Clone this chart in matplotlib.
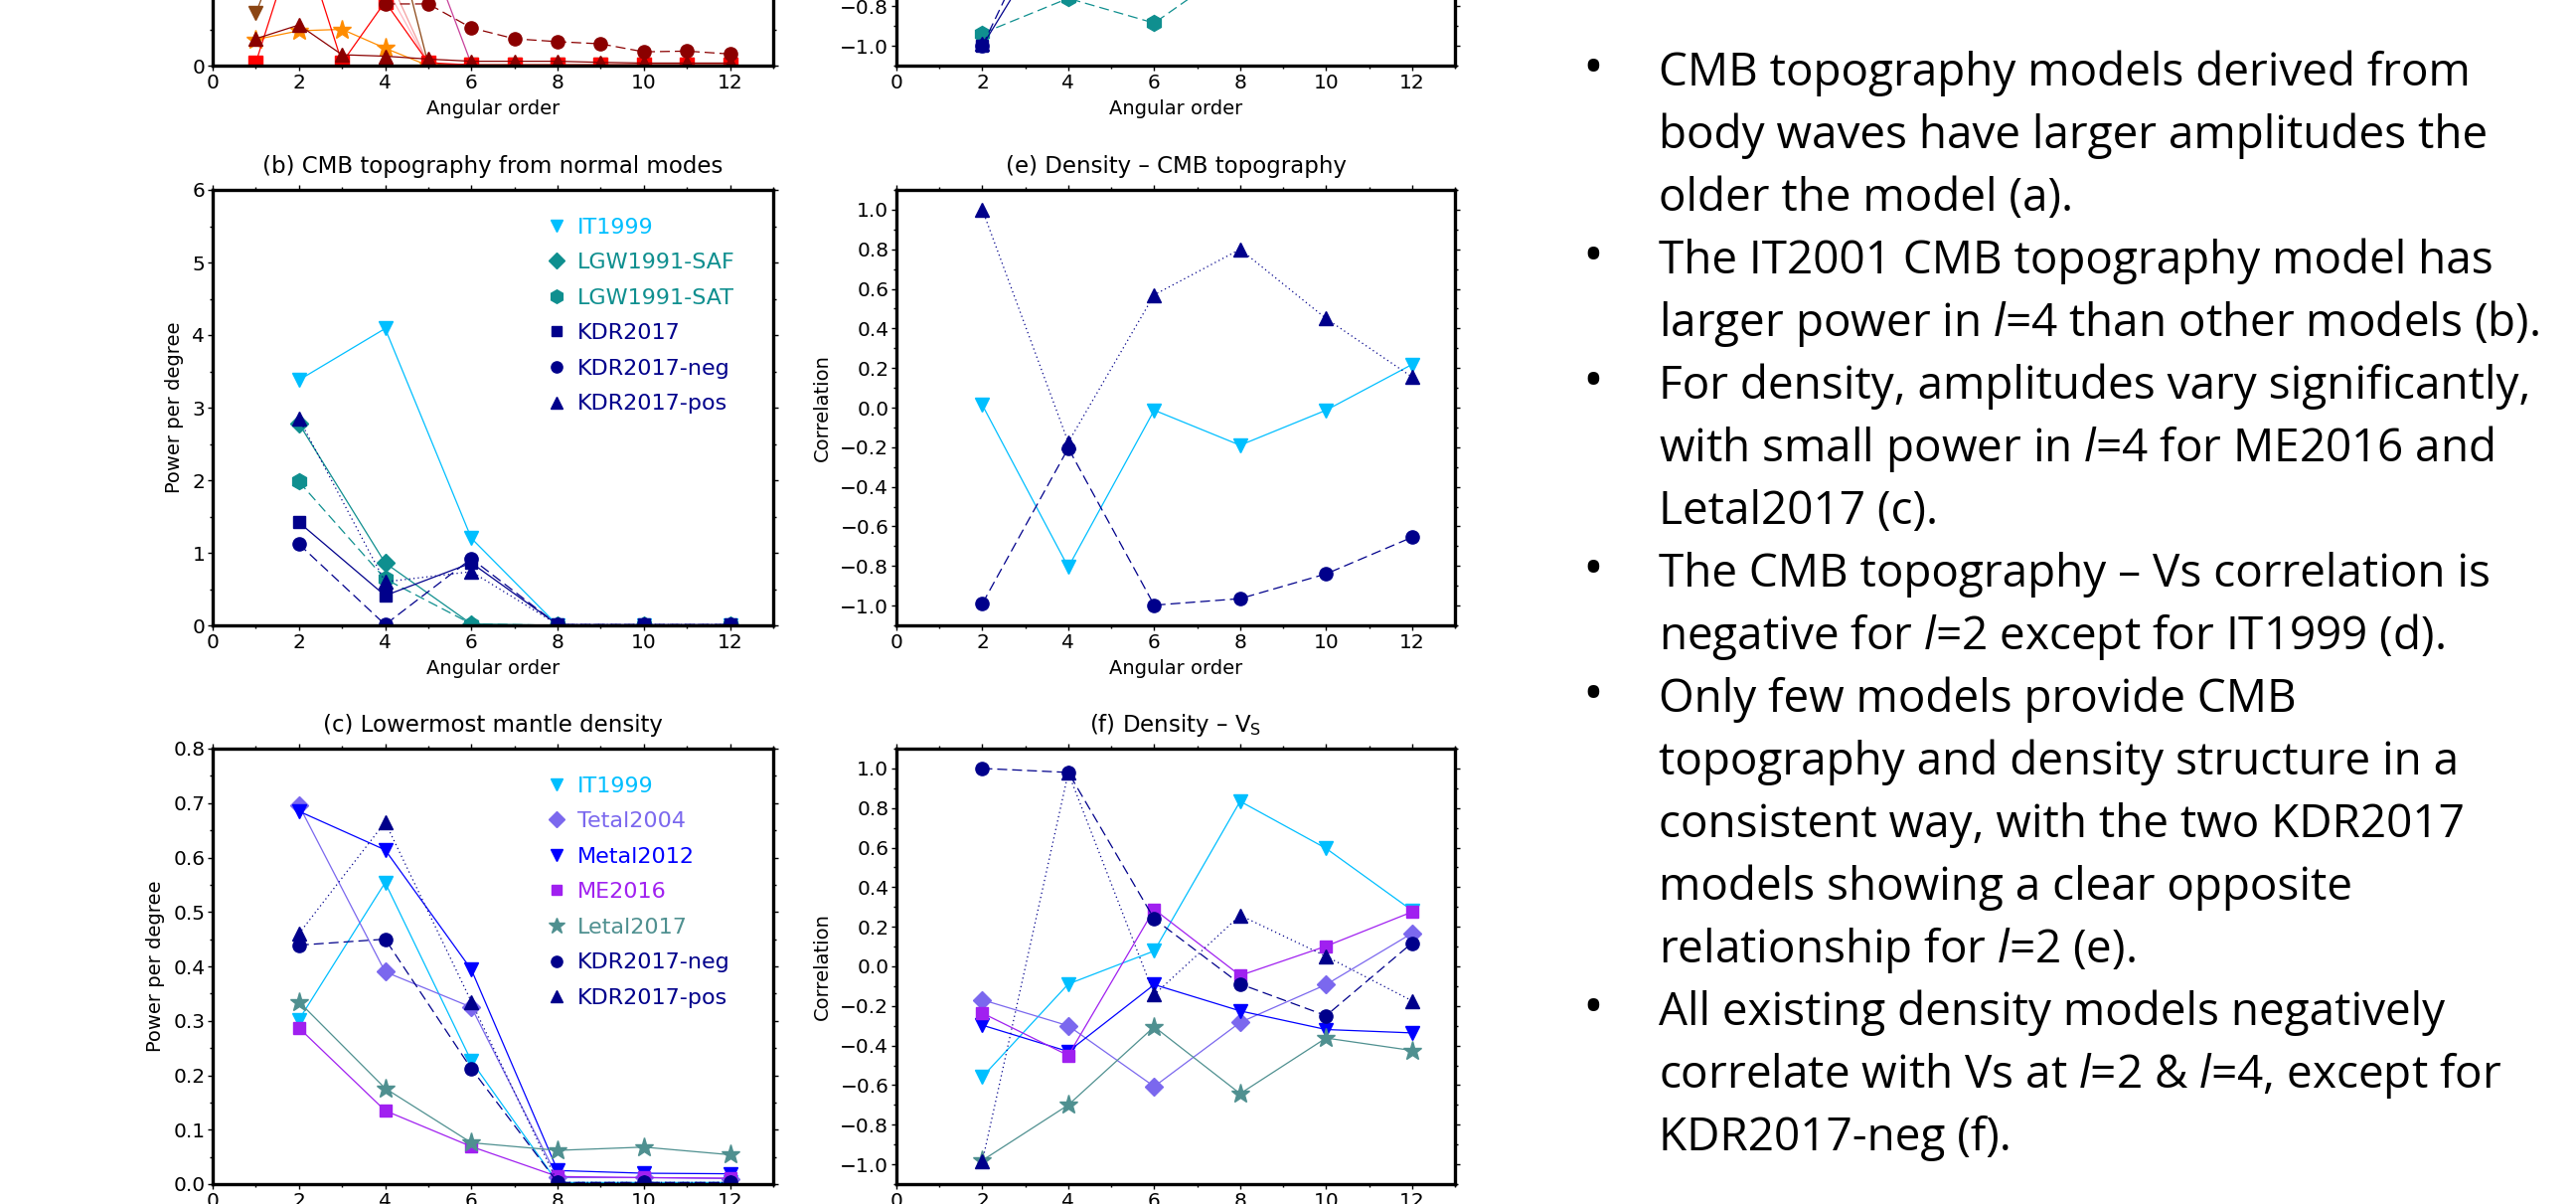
import numpy as np
import matplotlib
matplotlib.use('Agg')
import matplotlib.pyplot as plt
from matplotlib.lines import Line2D
from matplotlib.ticker import MultipleLocator, FuncFormatter

plt.rcParams['font.family'] = ['DejaVu Sans']
plt.rcParams['mathtext.fontset'] = 'custom'
plt.rcParams['mathtext.rm'] = 'DejaVu Sans'
plt.rcParams['mathtext.it'] = 'Open Sans:italic'

# ---- data ----
# panel (a): only the bottom strip of it is on the slide, unseen values are nan
orders_a = np.arange(1, 13)
body_red = [0.04, 1.9, 0.04, 0.88, 0.04, 0.01, 0.01, 0.01, 0.01, 0.01, 0.01, 0.01]
body_brown = [0.72, 2.25, 3.0, 2.35, 0.02, 0.01, 0.01, 0.01, 0.01, 0.01, 0.01, 0.01]
body_orange = [0.36, 0.48, 0.50, 0.24, 0.0, np.nan, np.nan, np.nan, np.nan, np.nan, np.nan, np.nan]
body_tri = [0.37, 0.56, 0.15, 0.13, 0.09, 0.06, 0.06, 0.06, 0.045, 0.035, 0.035, 0.035]
body_circ = [np.nan, np.nan, np.nan, 0.85, 0.85, 0.52, 0.37, 0.33, 0.30, 0.19, 0.20, 0.16]
body_pink = [np.nan, np.nan, 1.5, 1.10, 0.02, np.nan, np.nan, np.nan, np.nan, np.nan, np.nan, np.nan]
body_coral = [np.nan, np.nan, 1.6, 1.32, 0.02, np.nan, np.nan, np.nan, np.nan, np.nan, np.nan, np.nan]
body_magenta = [np.nan, np.nan, np.nan, 1.8, 1.6, 0.02, np.nan, np.nan, np.nan, np.nan, np.nan, np.nan]

orders = np.array([2, 4, 6, 8, 10, 12])

# panel (b) CMB topography from normal modes
topo_nm = {
    'IT1999': [3.38, 4.09, 1.20, 0.0, 0.0, 0.0],
    'LGW1991-SAF': [2.78, 0.86, 0.02, 0.0, 0.0, 0.0],
    'LGW1991-SAT': [1.98, 0.64, 0.02, 0.0, 0.0, 0.0],
    'KDR2017': [1.42, 0.41, 0.86, 0.01, 0.01, 0.01],
    'KDR2017-neg': [1.12, 0.01, 0.92, 0.01, 0.01, 0.01],
    'KDR2017-pos': [2.85, 0.60, 0.74, 0.01, 0.01, 0.01],
}

# panel (c) lowermost mantle density
dens = {
    'IT1999': [0.302, 0.554, 0.226, 0.003, 0.003, 0.003],
    'Tetal2004': [0.696, 0.390, 0.325, 0.012, 0.012, 0.010],
    'Metal2012': [0.685, 0.614, 0.394, 0.025, 0.020, 0.019],
    'ME2016': [0.287, 0.135, 0.069, 0.014, 0.012, 0.011],
    'Letal2017': [0.335, 0.176, 0.076, 0.062, 0.068, 0.054],
    'KDR2017-neg': [0.439, 0.450, 0.212, 0.003, 0.003, 0.003],
    'KDR2017-pos': [0.460, 0.665, 0.335, 0.003, 0.003, 0.003],
}

# panel (d) CMB topography - Vs, only the bottom strip is visible
topo_vs = {
    'LGW1991-SAT': [-0.937, -0.76, -0.885, -0.58, np.nan, np.nan],
    'KDR2017': [-1.0, -0.29, np.nan, np.nan, np.nan, np.nan],
    'KDR2017-neg': [-1.0, -0.09, np.nan, np.nan, np.nan, np.nan],
    'KDR2017-pos': [-0.99, np.nan, np.nan, np.nan, np.nan, np.nan],
}

# panel (e) density - CMB topography
dens_topo = {
    'IT1999': [0.013, -0.806, -0.013, -0.19, -0.013, 0.218],
    'KDR2017-neg': [-0.99, -0.205, -0.998, -0.965, -0.84, -0.655],
    'KDR2017-pos': [1.0, -0.175, 0.57, 0.80, 0.45, 0.155],
}

# panel (f) density - Vs
dens_vs = {
    'IT1999': [-0.558, -0.089, 0.078, 0.834, 0.596, 0.283],
    'Tetal2004': [-0.169, -0.30, -0.607, -0.283, -0.092, 0.167],
    'Metal2012': [-0.297, -0.43, -0.092, -0.225, -0.319, -0.336],
    'ME2016': [-0.236, -0.45, 0.288, -0.046, 0.102, 0.275],
    'Letal2017': [-0.98, -0.70, -0.305, -0.643, -0.362, -0.425],
    'KDR2017-neg': [1.0, 0.98, 0.24, -0.089, -0.249, 0.118],
    'KDR2017-pos': [-0.985, 0.978, -0.143, 0.258, 0.051, -0.174],
}

notes = [
    ["CMB topography models derived from", "body waves have larger amplitudes the",
     "older the model (a)."],
    ["The IT2001 CMB topography model has", r"larger power in $l$=4 than other models (b)."],
    ["For density, amplitudes vary significantly,", r"with small power in $l$=4 for ME2016 and",
     "Letal2017 (c)."],
    ["The CMB topography \u2013 Vs correlation is", r"negative for $l$=2 except for IT1999 (d)."],
    ["Only few models provide CMB", "topography and density structure in a",
     "consistent way, with the two KDR2017", "models showing a clear opposite",
     r"relationship for $l$=2 (e)."],
    ["All existing density models negatively", r"correlate with Vs at $l$=2 & $l$=4, except for",
     "KDR2017-neg (f)."],
]

# ---- styles ----
DASH = (0, (8, 4))
DOT = (0, (1, 2.5))
styles = {
    'IT1999': dict(color='#00bfff', marker='v', ls='-', ms=10.5),
    'LGW1991-SAF': dict(color='#0f8f8f', marker='D', ls='-', ms=9),
    'LGW1991-SAT': dict(color='#0f8f8f', marker='h', ls=DASH, ms=11.5),
    'KDR2017': dict(color='#00008b', marker='s', ls='-', ms=9),
    'KDR2017-neg': dict(color='#00008b', marker='o', ls=DASH, ms=9.5),
    'KDR2017-pos': dict(color='#00008b', marker='^', ls=DOT, ms=10.5),
    'Tetal2004': dict(color='#7b68ee', marker='D', ls='-', ms=9),
    'Metal2012': dict(color='#0000ff', marker='v', ls='-', ms=10.5),
    'ME2016': dict(color='#a020f0', marker='s', ls='-', ms=9),
    'Letal2017': dict(color='#4f9090', marker='*', ls='-', ms=14),
}

W, H = 2592, 1211
fig = plt.figure(figsize=(W / 100, H / 100), dpi=100)


def add_ax(left, top, width, height):
    return fig.add_axes([left / W, 1 - (top + height) / H, width / W, height / H])


def fmt(decimals):
    return FuncFormatter(lambda v, p: f"{round(v, 6) + 0.0:.{decimals}f}".replace('-', '\u2212'))


def style_ax(ax, ylim, major, minor, decimals):
    ax.set_xlim(0, 13)
    ax.set_ylim(*ylim)
    ax.xaxis.set_major_locator(MultipleLocator(2))
    ax.xaxis.set_minor_locator(MultipleLocator(1))
    ax.yaxis.set_major_locator(MultipleLocator(major))
    ax.yaxis.set_minor_locator(MultipleLocator(minor))
    ax.yaxis.set_major_formatter(fmt(decimals))
    ax.tick_params(which='both', direction='out', top=True, right=True, width=1.0,
                   labelsize=14.5)
    ax.tick_params(which='major', length=3.5, pad=2)
    ax.tick_params(which='minor', length=2)
    for s in ax.spines.values():
        s.set_linewidth(2.4)


def draw(ax, series, order):
    for name in order:
        st = styles[name]
        ax.plot(orders, series[name], color=st['color'], marker=st['marker'], ms=st['ms'],
                ls=st['ls'], lw=0.9, mec=st['color'])


def legend(ax, names):
    handles = [Line2D([], [], ls='none', marker=styles[n]['marker'], color=styles[n]['color'],
                      ms=styles[n]['ms'] * 0.85, label=n) for n in names]
    leg = ax.legend(handles=handles, loc='upper left', bbox_to_anchor=(0.594, 0.937),
                    frameon=False, fontsize=16, handlelength=1.0, handletextpad=0.45,
                    labelspacing=0.7, borderpad=0, borderaxespad=0)
    for t, h in zip(leg.get_texts(), handles):
        t.set_color(h.get_color())


col1, col2 = 214, 902
w1, w2 = 564, 562
ph = 438

# (a)
ax_a = add_ax(col1, -372, w1, ph)
style_ax(ax_a, (0, 6), 1, 0.5, 0)
body = [
    (body_magenta, '#c8409a', None, '-'),
    (body_pink, '#ffb6c1', None, '-'),
    (body_coral, '#f4a0a0', None, '-'),
    (body_brown, '#8b4513', 'v', '-'),
    (body_orange, '#ff8c00', '*', '-'),
    (body_red, '#ff0000', 's', '-'),
    (body_circ, '#8b0000', 'o', DASH),
    (body_tri, '#8b0000', '^', '-'),
]
for vals, c, m, ls in body:
    ax_a.plot(orders_a, vals, color=c, marker=m, ls=ls, lw=0.9,
              ms=14 if m == '*' else 9.5)
ax_a.set_xlabel('Angular order', fontsize=14, labelpad=5)
ax_a.set_ylabel('Power per degree', fontsize=14)

# (d)
ax_d = add_ax(col2, -372, w2, ph)
style_ax(ax_d, (-1.1, 1.1), 0.2, 0.1, 1)
draw(ax_d, topo_vs, ['LGW1991-SAT', 'KDR2017-pos', 'KDR2017', 'KDR2017-neg'])
ax_d.set_xlabel('Angular order', fontsize=14, labelpad=5)

# (b)
ax_b = add_ax(col1, 191, w1, ph)
style_ax(ax_b, (0, 6), 1, 0.5, 0)
draw(ax_b, topo_nm, ['IT1999', 'LGW1991-SAF', 'LGW1991-SAT', 'KDR2017-pos', 'KDR2017-neg', 'KDR2017'])
legend(ax_b, list(topo_nm))
ax_b.set_title('(b) CMB topography from normal modes', fontsize=16.5, pad=12)
ax_b.set_xlabel('Angular order', fontsize=14, labelpad=5)
ax_b.set_ylabel('Power per degree', fontsize=14, labelpad=6)

# (e)
ax_e = add_ax(col2, 191, w2, ph)
style_ax(ax_e, (-1.1, 1.1), 0.2, 0.1, 1)
draw(ax_e, dens_topo, ['IT1999', 'KDR2017-pos', 'KDR2017-neg'])
ax_e.set_title('(e) Density \u2013 CMB topography', fontsize=16.5, pad=12)
ax_e.set_xlabel('Angular order', fontsize=14, labelpad=5)
ax_e.set_ylabel('Correlation', fontsize=14, labelpad=6)

# (c)
ax_c = add_ax(col1, 753, w1, ph)
style_ax(ax_c, (0, 0.8), 0.1, 0.05, 1)
draw(ax_c, dens, list(dens))
legend(ax_c, list(dens))
ax_c.set_title('(c) Lowermost mantle density', fontsize=16.5, pad=12)
ax_c.set_xlabel('Angular order', fontsize=14, labelpad=5)
ax_c.set_ylabel('Power per degree', fontsize=14, labelpad=6)

# (f)
ax_f = add_ax(col2, 753, w2, ph)
style_ax(ax_f, (-1.1, 1.1), 0.2, 0.1, 1)
draw(ax_f, dens_vs, list(dens_vs))
ax_f.set_title('(f) Density \u2013 V$_\\mathrm{S}$', fontsize=16.5, pad=12)
ax_f.set_xlabel('Angular order', fontsize=14, labelpad=5)
ax_f.set_ylabel('Correlation', fontsize=14, labelpad=6)

# bullet text on the right
row = 0
for para in notes:
    for i, line in enumerate(para):
        y = 1 - (86 + 63 * row) / H
        if i == 0:
            fig.text(1603 / W, y, '\u2022', fontsize=40, family='Open Sans', ha='center', va='baseline')
        fig.text(1669 / W, y, line, fontsize=33, family='Open Sans', ha='left', va='baseline')
        row += 1

fig.savefig('out.png', dpi=100)
